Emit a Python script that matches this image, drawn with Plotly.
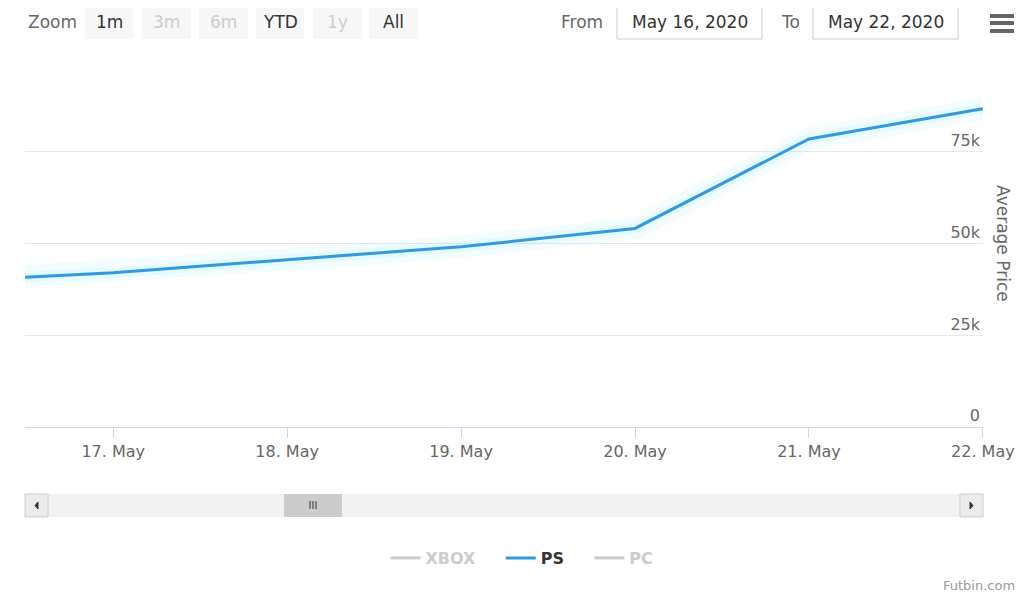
import plotly.graph_objects as go

# ---- data ----
dates = ["2020-05-16", "2020-05-17", "2020-05-18", "2020-05-19", "2020-05-20", "2020-05-21", "2020-05-22"]
ps_prices = [39700, 42000, 45600, 49100, 54100, 78500, 86700]
xbox_prices = [None, None, None, None, None, None, None]   # series hidden in the reference
pc_prices = [None, None, None, None, None, None, None]     # series hidden in the reference
y_tick_vals = [0, 25000, 50000, 75000, 100000]
y_tick_text = ["0", "25k", "50k", "75k", ""]
x_tick_vals = ["2020-05-17", "2020-05-18", "2020-05-19", "2020-05-20", "2020-05-21", "2020-05-22"]
zoom_buttons = ["1m", "3m", "6m", "YTD", "1y", "All"]
zoom_enabled = [True, False, False, True, False, True]
from_date = "May 16, 2020"
to_date = "May 22, 2020"

OFF = 8  # page body margin
W, H = 1024 - OFF, 599 - OFF
L, R, T, B = 25, 983, 60, 427   # plot area in screen pixels
FONT = '"Lucida Grande", "DejaVu Sans", sans-serif'
NB = "\u00a0"


def px(x):
    return (x - L) / (R - L)


def py(y):
    return (B - y) / (B - T)


fig = go.Figure()

# glow under the line
fig.add_trace(go.Scatter(x=dates, y=ps_prices, mode="lines", showlegend=False, hoverinfo="skip",
                         line=dict(color="rgba(175,240,255,0.15)", width=22)))
fig.add_trace(go.Scatter(x=dates, y=ps_prices, mode="lines", showlegend=False, hoverinfo="skip",
                         line=dict(color="rgba(175,240,255,0.22)", width=11)))

fig.add_trace(go.Scatter(x=dates, y=xbox_prices, mode="lines",
                         name="<span style='color:#999999'><b>XBOX</b></span>" + NB * 4,
                         visible="legendonly", line=dict(color="#999999", width=3)))
fig.add_trace(go.Scatter(x=dates, y=ps_prices, mode="lines", name="<b>PS</b>" + NB * 4,
                         line=dict(color="#3498db", width=3)))
fig.add_trace(go.Scatter(x=dates, y=pc_prices, mode="lines",
                         name="<span style='color:#999999'><b>PC</b></span>",
                         visible="legendonly", line=dict(color="#999999", width=3)))

shapes = []
annotations = []

# Zoom label and buttons
annotations.append(dict(text="Zoom", x=px(52), y=py(22), xref="paper", yref="paper", showarrow=False,
                        font=dict(family=FONT, size=17, color="#666666"), xanchor="center", yanchor="middle"))
btn_x = [(85, 133), (142, 191), (199, 248), (256, 304), (313, 362), (369, 418)]
for (x0, x1), lab, en in zip(btn_x, zoom_buttons, zoom_enabled):
    shapes.append(dict(type="rect", xref="paper", yref="paper", x0=px(x0), x1=px(x1), y0=py(39), y1=py(6),
                       fillcolor="#f7f7f7", line=dict(width=0), layer="above"))
    annotations.append(dict(text=lab, x=px((x0 + x1) / 2), y=py(22), xref="paper", yref="paper", showarrow=False,
                            font=dict(family=FONT, size=17, color="#333333" if en else "#cccccc"),
                            xanchor="center", yanchor="middle"))

# From / To inputs
annotations.append(dict(text="From", x=px(582), y=py(22), xref="paper", yref="paper", showarrow=False,
                        font=dict(family=FONT, size=17, color="#666666"), xanchor="center", yanchor="middle"))
annotations.append(dict(text="To", x=px(790), y=py(22), xref="paper", yref="paper", showarrow=False,
                        font=dict(family=FONT, size=17, color="#666666"), xanchor="center", yanchor="middle"))
for (x0, x1), lab in zip([(617, 762), (813, 958)], [from_date, to_date]):
    shapes.append(dict(type="rect", xref="paper", yref="paper", x0=px(x0), x1=px(x1), y0=py(39), y1=py(6),
                       fillcolor="white", line=dict(color="#cccccc", width=1), layer="above"))
    annotations.append(dict(text=lab, x=px((x0 + x1) / 2), y=py(22), xref="paper", yref="paper", showarrow=False,
                            font=dict(family=FONT, size=17, color="#333333"), xanchor="center", yanchor="middle"))

# hamburger menu
for yy in (16, 23, 31):
    shapes.append(dict(type="line", xref="paper", yref="paper", x0=px(990), x1=px(1014), y0=py(yy), y1=py(yy),
                       line=dict(color="#666666", width=4), layer="above"))

# scrollbar
shapes.append(dict(type="rect", xref="paper", yref="paper", x0=px(25), x1=px(983), y0=py(517), y1=py(494),
                   fillcolor="#f2f2f2", line=dict(width=0)))
for x0, x1 in [(25, 48), (960, 983)]:
    shapes.append(dict(type="rect", xref="paper", yref="paper", x0=px(x0), x1=px(x1), y0=py(517), y1=py(494),
                       fillcolor="#ebebeb", line=dict(color="#cccccc", width=1)))
shapes.append(dict(type="path", xref="paper", yref="paper",
                   path=f"M {px(38)} {py(502)} L {px(35)} {py(505.5)} L {px(38)} {py(509)} Z",
                   fillcolor="#333333", line=dict(color="#333333", width=1)))
shapes.append(dict(type="path", xref="paper", yref="paper",
                   path=f"M {px(970)} {py(502)} L {px(973)} {py(505.5)} L {px(970)} {py(509)} Z",
                   fillcolor="#333333", line=dict(color="#333333", width=1)))
# thumb
shapes.append(dict(type="rect", xref="paper", yref="paper", x0=px(284), x1=px(342), y0=py(517), y1=py(494),
                   fillcolor="#cccccc", line=dict(width=0)))
for xx in (310, 313, 316):
    shapes.append(dict(type="line", xref="paper", yref="paper", x0=px(xx), x1=px(xx), y0=py(501), y1=py(509),
                       line=dict(color="#333333", width=1)))

# y axis title
annotations.append(dict(text="Average Price", x=px(1003), y=py(243), xref="paper", yref="paper", showarrow=False,
                        textangle=90, font=dict(family=FONT, size=17, color="#666666"),
                        xanchor="center", yanchor="middle"))
# credits
annotations.append(dict(text="Futbin.com", x=px(1017), y=py(585), xref="paper", yref="paper", showarrow=False,
                        font=dict(family=FONT, size=13, color="#999999"), xanchor="right", yanchor="middle"))

fig.update_layout(
    width=W, height=H,
    margin=dict(l=L - OFF, r=(W + OFF) - R, t=T - OFF, b=(H + OFF) - B, pad=0, autoexpand=False),
    paper_bgcolor="white", plot_bgcolor="white",
    hovermode=False,
    font=dict(family=FONT, color="#666666"),
    shapes=shapes, annotations=annotations,
    legend=dict(orientation="h", x=px(522), xanchor="center", y=py(558), yanchor="middle",
                font=dict(family=FONT, size=16, color="#333333"), bgcolor="rgba(0,0,0,0)"),
    xaxis=dict(type="date", range=["2020-05-16 11:50", "2020-05-22 00:01"], automargin=False,
               tickvals=x_tick_vals, tickformat="%d. %b", showgrid=False, zeroline=False,
               showline=True, linecolor="#ccd6eb", linewidth=1,
               ticks="outside", ticklen=10, tickcolor="#ccd6eb", tickwidth=1, ticklabeloverflow="allow",
               tickfont=dict(family=FONT, size=16, color="#666666"), fixedrange=True),
    yaxis=dict(range=[0, 100000], side="right", tickvals=y_tick_vals, ticktext=y_tick_text, automargin=False,
               ticklabelposition="inside top", ticklabeloverflow="allow",
               showgrid=True, gridcolor="#e6e6e6", gridwidth=1, zeroline=False, ticks="",
               tickfont=dict(family=FONT, size=16, color="#666666"), fixedrange=True),
)

fig.write_html("out.html", config={"displayModeBar": False})
